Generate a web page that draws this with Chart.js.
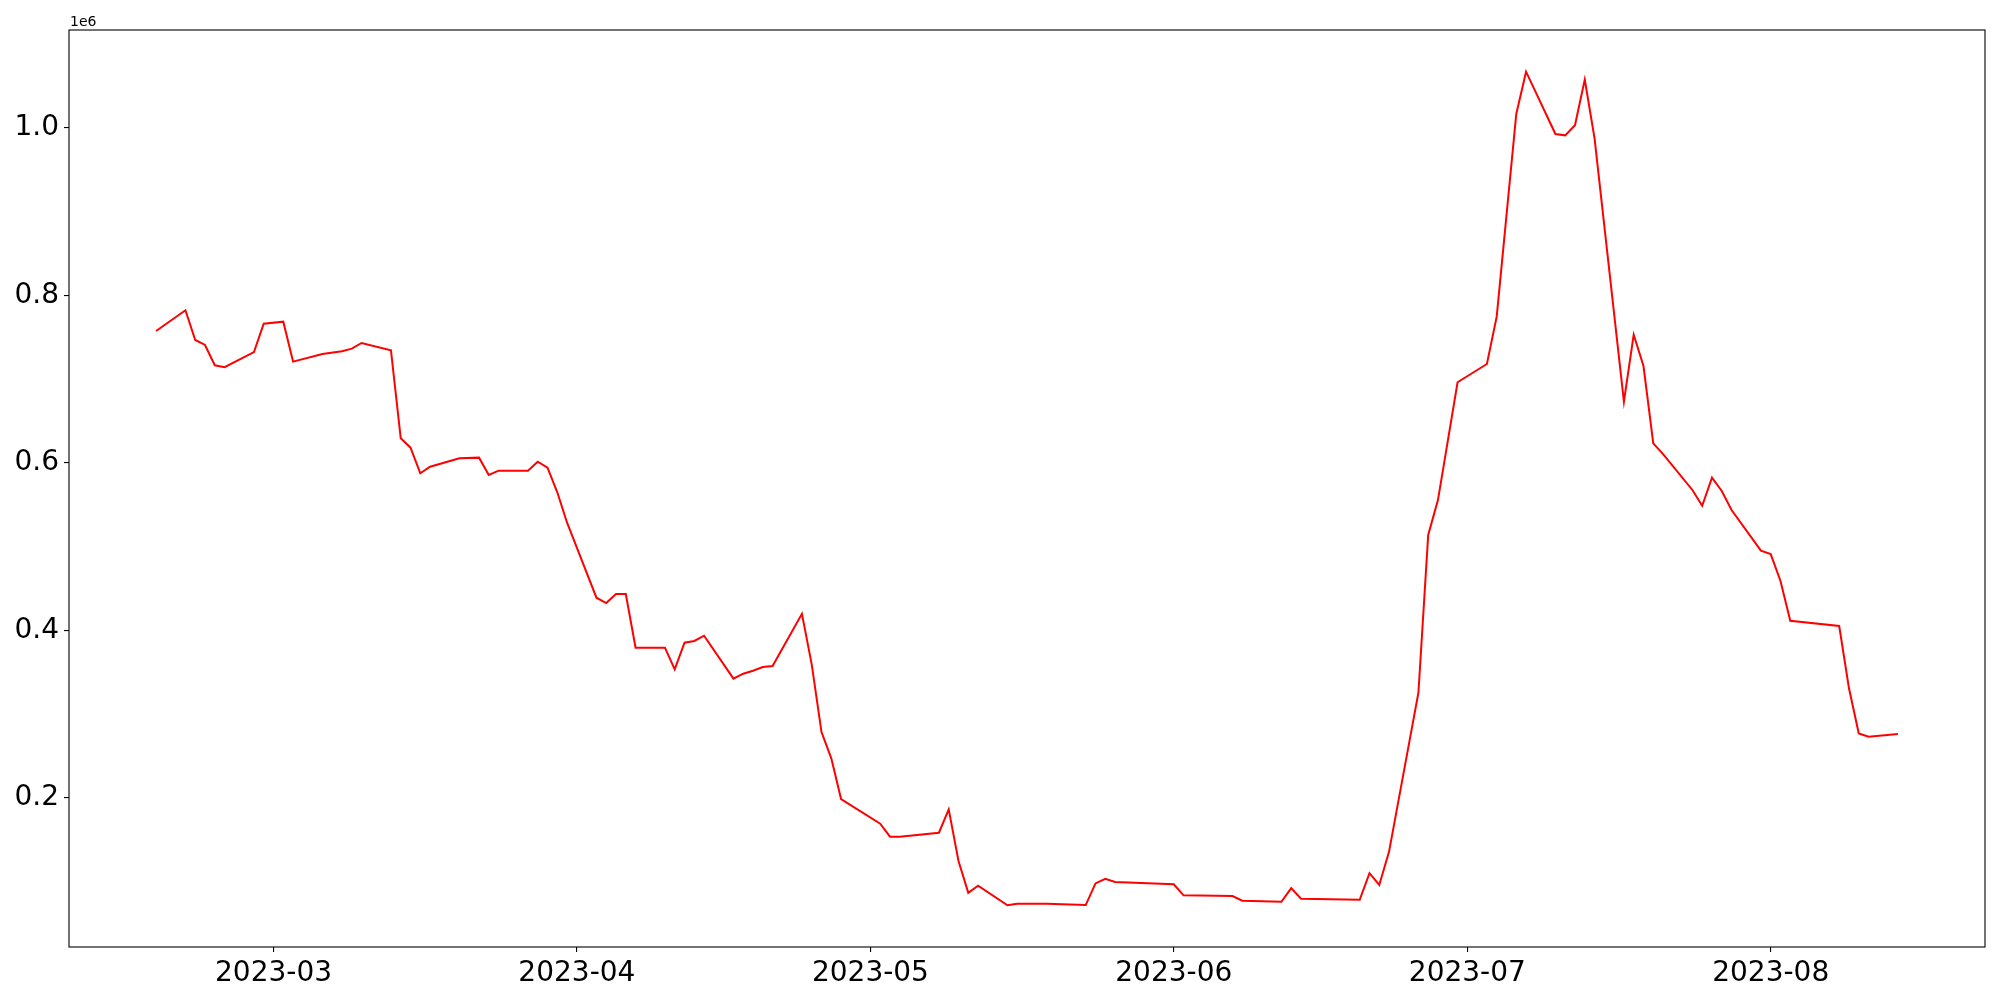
<!DOCTYPE html>
<html>
<head>
<meta charset="utf-8">
<script src="https://cdn.jsdelivr.net/npm/chart.js@4.4.1/dist/chart.umd.min.js"></script>
<style>
  html, body { margin: 0; padding: 0; background: #fff; }
  #chart { display: block; width: 2000px; height: 1000px; }
</style>
</head>
<body>
<canvas id="chart" width="2000" height="1000"></canvas>
<script>
// dates of the points
const dates = [
  '2023-02-17', '2023-02-20', '2023-02-21', '2023-02-22', '2023-02-23', '2023-02-24',
  '2023-02-27', '2023-02-28', '2023-03-02', '2023-03-03', '2023-03-06', '2023-03-08',
  '2023-03-09', '2023-03-10', '2023-03-13', '2023-03-14', '2023-03-15', '2023-03-16',
  '2023-03-17', '2023-03-20', '2023-03-22', '2023-03-23', '2023-03-24', '2023-03-27',
  '2023-03-28', '2023-03-29', '2023-03-30', '2023-03-31', '2023-04-03', '2023-04-04',
  '2023-04-05', '2023-04-06', '2023-04-07', '2023-04-10', '2023-04-11', '2023-04-12',
  '2023-04-13', '2023-04-14', '2023-04-17', '2023-04-18', '2023-04-19', '2023-04-20',
  '2023-04-21', '2023-04-24', '2023-04-25', '2023-04-26', '2023-04-27', '2023-04-28',
  '2023-05-02', '2023-05-03', '2023-05-04', '2023-05-08', '2023-05-09', '2023-05-10',
  '2023-05-11', '2023-05-12', '2023-05-15', '2023-05-16', '2023-05-19', '2023-05-23',
  '2023-05-24', '2023-05-25', '2023-05-26', '2023-06-01', '2023-06-02', '2023-06-07',
  '2023-06-08', '2023-06-12', '2023-06-13', '2023-06-14', '2023-06-20', '2023-06-21',
  '2023-06-22', '2023-06-23', '2023-06-26', '2023-06-27', '2023-06-28', '2023-06-30',
  '2023-07-03', '2023-07-04', '2023-07-06', '2023-07-07', '2023-07-10', '2023-07-11',
  '2023-07-12', '2023-07-13', '2023-07-14', '2023-07-17', '2023-07-18', '2023-07-19',
  '2023-07-20', '2023-07-21', '2023-07-24', '2023-07-25', '2023-07-26', '2023-07-27',
  '2023-07-28', '2023-07-31', '2023-08-01', '2023-08-02', '2023-08-03', '2023-08-08',
  '2023-08-09', '2023-08-10', '2023-08-11', '2023-08-14'
]

const values = [
  757600, 782300, 746900, 740900, 716700, 714300,
  732500, 766300, 768700, 721000, 730100, 733400,
  736500, 743300, 734600, 629500, 618300, 587700,
  595600, 605600, 606400, 585700, 590800, 590800,
  601600, 594400, 565000, 528700, 439200, 432800,
  443600, 443600, 379500, 379500, 353700, 385500,
  387500, 393800, 342500, 348400, 352000, 356400,
  357600, 420000, 359600, 278800, 247400, 198800,
  169300, 153800, 153800, 158600, 186500, 124800,
  86900, 95300, 71900, 73800, 73800, 72200,
  98100, 103600, 99700, 97000, 83800, 83000,
  77400, 76200, 92500, 79800, 78500, 110300,
  96200, 136000, 325700, 514200, 556000, 696400,
  718200, 774700, 1016700, 1067200, 992800, 991200,
  1003200, 1057700, 987700, 673200, 753200, 715800,
  623500, 610700, 567800, 549000, 582500, 566600,
  543900, 495300, 491300, 459100, 411700, 405400,
  331000, 277200, 273200, 276400
]

const xTickLabels = ['2023-03', '2023-04', '2023-05', '2023-06', '2023-07', '2023-08']
const yTickValues = [200000, 400000, 600000, 800000, 1000000]
const yTickLabels = ['0.2', '0.4', '0.6', '0.8', '1.0']
const offsetText = '1e6'

// days since epoch, so the x axis can stay linear (no date adapter offline)
function toDay(s) {
  let p = s.split('-').map(Number)
  return Date.UTC(p[0], p[1] - 1, p[2] || 1) / 86400000
}

let points = dates.map((d, i) => ({ x: toDay(d), y: values[i] }))

// matplotlib style 5% margins
let xs = points.map(p => p.x)
let xLo = Math.min(...xs), xHi = Math.max(...xs)
let yLo = Math.min(...values), yHi = Math.max(...values)
let xPad = (xHi - xLo) * 0.05, yPad = (yHi - yLo) * 0.05

const font = { family: 'DejaVu Sans', size: 28 }

const spines = {
  id: 'spines',
  afterDraw(chart) {
    let { ctx, chartArea: a } = chart
    ctx.save()
    ctx.strokeStyle = '#000'
    ctx.lineWidth = 1.1
    ctx.strokeRect(a.left, a.top, a.right - a.left, a.bottom - a.top)
    ctx.font = '14px "DejaVu Sans"'
    ctx.fillStyle = '#000'
    ctx.textAlign = 'left'
    ctx.textBaseline = 'alphabetic'
    ctx.fillText(offsetText, a.left + 1, a.top - 4)
    ctx.restore()
  }
}

new Chart(document.getElementById('chart'), {
  type: 'line',
  data: {
    datasets: [{
      data: points,
      borderColor: '#ff0000',
      borderWidth: 2,
      pointRadius: 0,
      tension: 0,
      fill: false
    }]
  },
  options: {
    responsive: false,
    animation: false,
    layout: { padding: { left: 0, right: 15, top: 30, bottom: 0 } },
    plugins: { legend: { display: false }, tooltip: { enabled: false } },
    scales: {
      x: {
        type: 'linear',
        min: xLo - xPad,
        max: xHi + xPad,
        afterBuildTicks: s => { s.ticks = xTickLabels.map(l => ({ value: toDay(l) })) },
        afterFit: s => { s.height = 53 },
        border: { display: false },
        grid: { drawOnChartArea: false, color: '#000', tickLength: 5, lineWidth: 1.1 },
        ticks: {
          autoSkip: false, maxRotation: 0, padding: 5, color: '#000', font: font,
          callback: (v, i) => xTickLabels[i]
        }
      },
      y: {
        min: yLo - yPad,
        max: yHi + yPad,
        afterBuildTicks: s => { s.ticks = yTickValues.map(v => ({ value: v })) },
        afterFit: s => { s.width = 69 },
        border: { display: false },
        grid: { drawOnChartArea: false, color: '#000', tickLength: 5, lineWidth: 1.1 },
        ticks: {
          autoSkip: false, padding: 5, color: '#000', font: font,
          callback: (v, i) => yTickLabels[i]
        }
      }
    }
  },
  plugins: [spines]
})
</script>
</body>
</html>
